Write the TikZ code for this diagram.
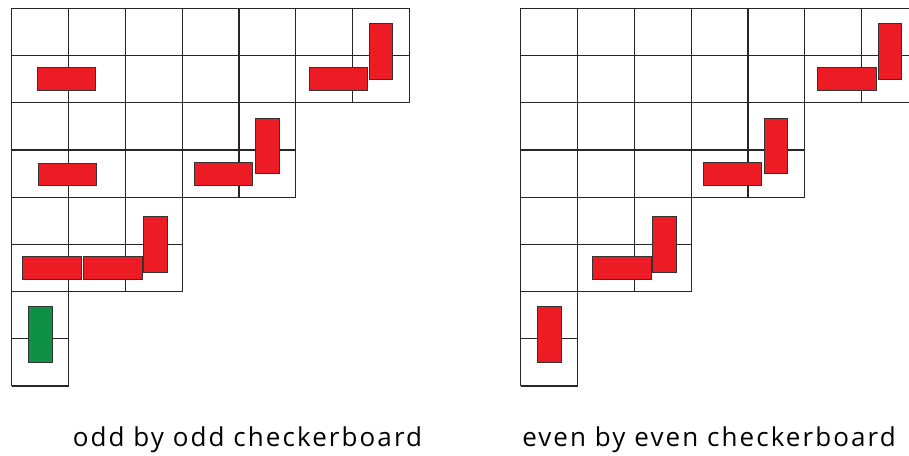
\documentclass[tikz,border=0pt]{standalone}
\usepackage{fontspec}
\setmainfont{Open Sans}
\usepackage{xcolor}
\usetikzlibrary{calc}

\definecolor{domred}{HTML}{ED1C24}
\definecolor{domgreen}{HTML}{0E9145}

\tikzset{
  gridline/.style={black!85, line width=1.2pt},
  hdomino/.style={draw=black!80, line width=0.9pt, fill=domred,
                  minimum width=58.5pt, minimum height=22.3pt, inner sep=0pt},
  vdomino/.style={hdomino, minimum width=23.5pt, minimum height=55.6pt},
  caption/.style={font=\fontsize{26}{30}\selectfont\addfontfeatures{LetterSpace=8}, anchor=base}
}

\begin{document}
\begin{tikzpicture}[x=1pt,y=-1pt]

\clip (0,0) rectangle (909,455);
\useasboundingbox (0,0) rectangle (909,455);

% staircase boards: cell 56.8 x 47.2
\foreach \ox in {11.7,520.7}{
  \foreach \j in {0,...,8}{
    \pgfmathsetmacro\ncols{\j<1 ? 7 : 7 - 2*floor((\j-1)/2)}
    \pgfmathsetmacro\ncolsb{\j>7 ? 1 : 7 - 2*floor(\j/2)}
    \pgfmathsetmacro\len{max(\ncols,\ncolsb)*56.8}
    \draw[gridline] (\ox, 8.3+\j*47.2) -- ++(\len,0);
  }
  \foreach \i in {0,...,7}{
    \pgfmathsetmacro\nrows{8 - 2*floor(\i/2)}
    \draw[gridline] (\ox+\i*56.8, 8.3) -- ++(0,\nrows*47.2);
  }
}

% odd by odd
\foreach \x/\y [count=\n] in {66.3/78.8, 67.2/174.3, 51.7/267.8, 113/267.8, 223.3/173.8, 338.2/78.8}
  \node[hdomino] (oh\n) at (\x,\y) {};
\foreach \x/\y [count=\n] in {155.5/244.5, 267.2/145.8, 381/51.7}
  \node[vdomino] (ov\n) at (\x,\y) {};
\node[vdomino, fill=domgreen] (og) at (40.3,334.5) {};

% even by even
\foreach \x/\y [count=\n] in {846.8/78.8, 732.5/174, 621.7/268}
  \node[hdomino] (eh\n) at (\x,\y) {};
\foreach \x/\y [count=\n] in {890/51.7, 776/145.8, 664.3/244.5, 549.2/334.5}
  \node[vdomino] (ev\n) at (\x,\y) {};

\node[caption] (oddlabel) at (247.5,446) {odd by odd checkerboard};
\node[caption] (evenlabel) at (709,446) {even by even checkerboard};

\end{tikzpicture}
\end{document}
